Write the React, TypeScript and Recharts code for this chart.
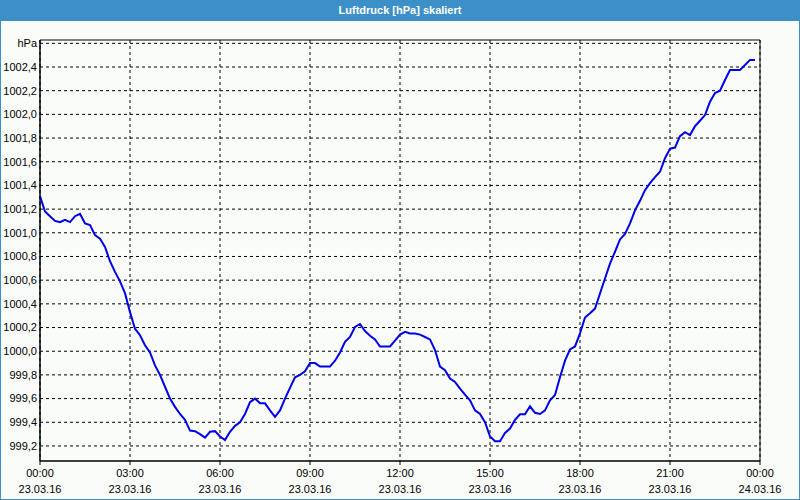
import React from "react";
import { LineChart, Line, XAxis, YAxis, CartesianGrid, ReferenceArea } from "recharts";

// Sample interval of the pressure readings (minutes)
const sampleStepMin = 10;

// Air pressure in hPa, one reading every 10 minutes from 23.03.16 00:00
const pressure: number[] = [
  1001.31, 1001.18, 1001.14, 1001.10, 1001.09, 1001.11, 1001.09, 1001.14, 1001.16, 1001.08,
  1001.065, 1000.98, 1000.95, 1000.88, 1000.76, 1000.67, 1000.59, 1000.49, 1000.33, 1000.19,
  1000.135, 1000.05, 999.99, 999.88, 999.80, 999.70, 999.60, 999.53, 999.47, 999.42,
  999.33, 999.325, 999.30, 999.27, 999.32, 999.325, 999.28, 999.25, 999.32, 999.37,
  999.40, 999.47, 999.57, 999.60, 999.56, 999.56, 999.50, 999.445, 999.50, 999.60,
  999.69, 999.78, 999.80, 999.83, 999.90, 999.90, 999.87, 999.87, 999.87, 999.92,
  999.99, 1000.08, 1000.12, 1000.205, 1000.23, 1000.17, 1000.13, 1000.10, 1000.04, 1000.04,
  1000.04, 1000.09, 1000.14, 1000.163, 1000.15, 1000.15, 1000.14, 1000.12, 1000.10, 1000.01,
  999.87, 999.84, 999.77, 999.74, 999.685, 999.634, 999.586, 999.50, 999.47, 999.40,
  999.28, 999.24, 999.24, 999.31, 999.347, 999.42, 999.467, 999.467, 999.535, 999.48,
  999.47, 999.50, 999.586, 999.63, 999.78, 999.92, 1000.015, 1000.04, 1000.15, 1000.285,
  1000.32, 1000.36, 1000.487, 1000.614, 1000.74, 1000.84, 1000.944, 1000.99, 1001.08, 1001.19,
  1001.27, 1001.36, 1001.42, 1001.47, 1001.515, 1001.63, 1001.71, 1001.72, 1001.816, 1001.85,
  1001.825, 1001.90, 1001.946, 1001.994, 1002.107, 1002.18, 1002.20, 1002.29, 1002.375, 1002.375,
  1002.375, 1002.417, 1002.46, 1002.46,
];

// X axis: minutes since 23.03.16 00:00
const majorTicks = [0, 180, 360, 540, 720, 900, 1080, 1260, 1440];
const minorTicks = [0, 60, 120, 180, 240, 300, 360, 420, 480, 540, 600, 660, 720, 780, 840, 900, 960, 1020, 1080, 1140, 1200, 1260, 1320, 1380, 1440];
const timeLabels = ["00:00", "03:00", "06:00", "09:00", "12:00", "15:00", "18:00", "21:00", "00:00"];
const dateLabels = ["23.03.16", "23.03.16", "23.03.16", "23.03.16", "23.03.16", "23.03.16", "23.03.16", "23.03.16", "24.03.16"];

// Y axis
const yTicks = [999.2, 999.4, 999.6, 999.8, 1000.0, 1000.2, 1000.4, 1000.6, 1000.8, 1001.0, 1001.2, 1001.4, 1001.6, 1001.8, 1002.0, 1002.2, 1002.4, 1002.6];
const yUnitTick = 1002.6;
const yDomain: [number, number] = [999.073, 1002.628];
const xDomain: [number, number] = [0, 1440];

const title = "Luftdruck [hPa] skaliert";

const data = pressure.map((v, i) => ({ min: i * sampleStepMin, p: v }));

const FONT = "'Liberation Sans', Arial, sans-serif";

const XTick = (props: any) => {
  const { x, y, payload } = props;
  const idx = majorTicks.indexOf(payload.value);
  return (
    <g>
      <text x={x} y={y} dy={12} textAnchor="middle" fontFamily={FONT} fontSize={11} fill="#000">
        {timeLabels[idx]}
      </text>
      <text x={x} y={y} dy={28} textAnchor="middle" fontFamily={FONT} fontSize={11} fill="#000">
        {dateLabels[idx]}
      </text>
    </g>
  );
};

const fmtY = (v: number) => (Math.abs(v - yUnitTick) < 1e-6 ? "hPa" : v.toFixed(1).replace(".", ","));

export default function App() {
  return (
    <div
      style={{
        position: "absolute",
        left: 0,
        top: 0,
        width: 800,
        height: 500,
        background: "#fafcfa",
        boxSizing: "border-box",
        borderLeft: "1px solid #3c8fc7",
        borderRight: "1px solid #3c8fc7",
        borderBottom: "1px solid #3c8fc7",
        overflow: "hidden",
      }}
    >
      <div
        style={{
          position: "absolute",
          left: -1,
          top: 0,
          width: 800,
          height: 21,
          background: "#3c8fc7",
          color: "#fff",
          fontFamily: FONT,
          fontWeight: "bold",
          fontSize: 11,
          lineHeight: "21px",
          textAlign: "center",
        }}
      >
        {title}
      </div>
      <div style={{ position: "absolute", left: -1, top: 0 }}>
        <LineChart width={800} height={500} data={data} margin={{ top: 40, right: 40, bottom: 0, left: 0 }}>
          <CartesianGrid
            stroke="#000"
            strokeDasharray="3 3"
            verticalValues={majorTicks}
            horizontalValues={yTicks}
          />
          <XAxis
            xAxisId="minor"
            dataKey="min"
            type="number"
            domain={xDomain}
            ticks={minorTicks}
            tick={false}
            tickSize={4}
            axisLine={false}
            tickLine={{ stroke: "#000" }}
            height={0}
          />
          <XAxis
            dataKey="min"
            type="number"
            domain={xDomain}
            ticks={majorTicks}
            tick={<XTick />}
            tickSize={4}
            tickMargin={0}
            axisLine={{ stroke: "#000" }}
            tickLine={{ stroke: "#000" }}
            height={39}
          />
          <YAxis
            type="number"
            domain={yDomain}
            ticks={yTicks}
            tickFormatter={fmtY}
            width={40}
            tickSize={0}
            tickMargin={3}
            axisLine={{ stroke: "#000" }}
            tick={{ fontFamily: FONT, fontSize: 11, fill: "#000" }}
            interval={0}
            allowDataOverflow
          />
          <ReferenceArea x1={0} x2={1440} y1={yDomain[0]} y2={yDomain[1]} fill="none" stroke="#000" ifOverflow="extendDomain" />
          <Line
            type="linear"
            dataKey="p"
            stroke="#0000e6"
            strokeWidth={2}
            dot={false}
            isAnimationActive={false}
          />
        </LineChart>
      </div>
    </div>
  );
}
